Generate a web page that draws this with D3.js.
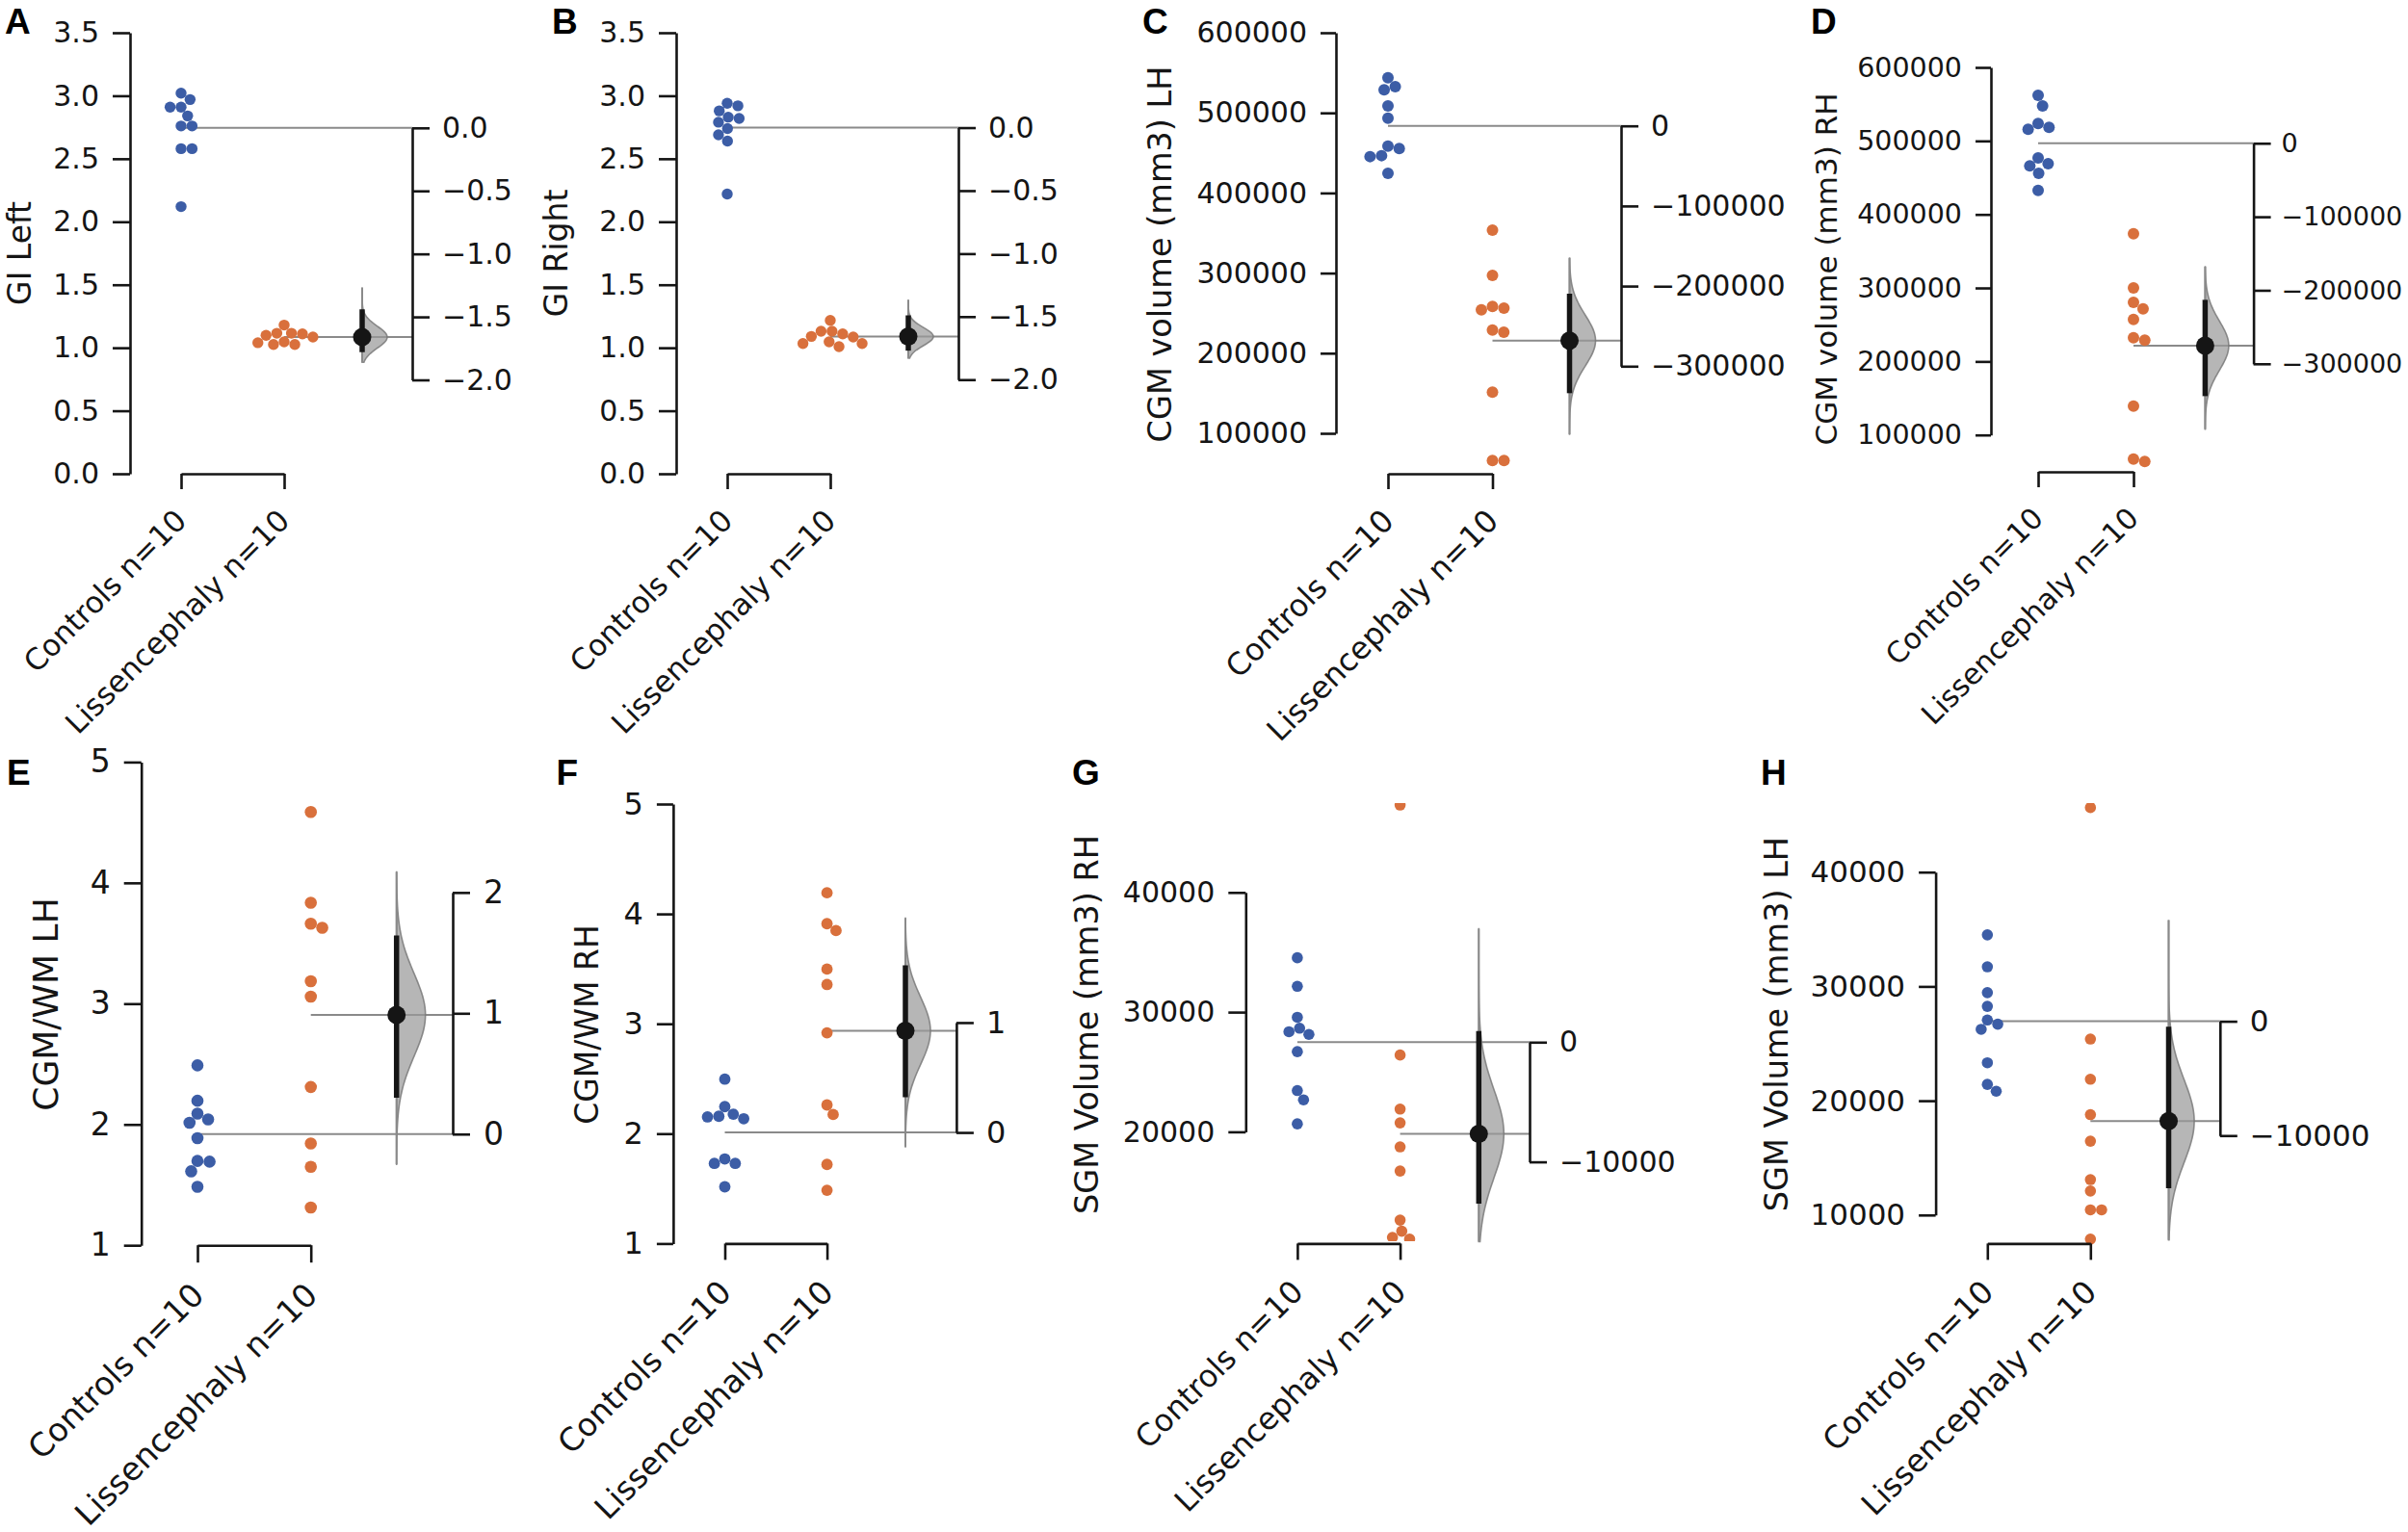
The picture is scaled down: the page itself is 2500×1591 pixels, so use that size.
<!DOCTYPE html>
<html><head><meta charset="utf-8">
<script src="https://cdn.jsdelivr.net/npm/d3@7"></script>
<style>body{margin:0;background:#fff}svg{display:block}</style>
</head><body>
<script>
// ---------------- DATA ----------------
const groups = ["Controls n=10", "Lissencephaly n=10"];
const panelIds = ["A","B","C","D","E","F","G","H"];
const yTitles = ["GI Left","GI Right","CGM volume (mm3) LH","CGM volume (mm3) RH",
                 "CGM/WM LH","CGM/WM RH","SGM Volume (mm3) RH","SGM Volume (mm3) LH"];

const controlsGILeft  = [3.02, 2.97, 2.91, 2.91, 2.84, 2.76, 2.76, 2.58, 2.58, 2.12];
const lissGILeft      = [1.18, 1.115, 1.115, 1.11, 1.098, 1.085, 1.047, 1.04, 1.026, 1.026];
const controlsGIRight = [2.94, 2.92, 2.88, 2.83, 2.82, 2.79, 2.74, 2.69, 2.64, 2.22];
const lissGIRight     = [1.217, 1.131, 1.131, 1.11, 1.09, 1.085, 1.047, 1.034, 1.034, 1.009];
const controlsCGMVolLH = [543900, 532700, 528700, 508650, 493400, 458600, 455400, 446600, 445400, 424500];
const lissCGMVolLH     = [353600, 297100, 258300, 256250, 254200, 229000, 226200, 151300, 66000, 66000];
const controlsCGMVolRH = [562100, 547600, 523700, 518400, 515800, 476900, 469000, 466000, 455900, 432800];
const lissCGMVolRH     = [373800, 300000, 280400, 271600, 257200, 232300, 228900, 139300, 67200, 63800];
const controlsCGMWMLH = [2.489, 2.196, 2.09, 2.042, 2.014, 1.886, 1.698, 1.692, 1.612, 1.484];
const lissCGMWMLH     = [4.587, 3.835, 3.662, 3.628, 3.186, 3.058, 2.31, 1.843, 1.649, 1.313];
const controlsCGMWMRH = [2.496, 2.246, 2.177, 2.158, 2.152, 2.136, 1.77, 1.729, 1.729, 1.516];
const lissCGMWMRH     = [4.192, 3.911, 3.848, 3.498, 3.357, 2.918, 2.261, 2.174, 1.72, 1.485];
const controlsSGMVolRH = [34543, 32155, 29569, 28655, 28362, 28138, 26698, 23448, 22672, 20664];
const lissSGMVolRH     = [47300, 26414, 21897, 20750, 18741, 16724, 12621, 11698, 11181, 11034];
const controlsSGMVolLH = [34513, 31715, 29458, 28258, 27058, 26697, 26245, 23321, 21426, 20830];
const lissSGMVolLH     = [45650, 25397, 21877, 18782, 16462, 13096, 12103, 10451, 10451, 7888];

// tick values
const leftTicksGI = [0, 0.5, 1, 1.5, 2, 2.5, 3, 3.5];
const rightTicksGI = [0, -0.5, -1, -1.5, -2];
const leftTicksCGMVol = [100000, 200000, 300000, 400000, 500000, 600000];
const rightTicksCGMVol = [0, -100000, -200000, -300000];
const leftTicksRatio = [1, 2, 3, 4, 5];
const rightTicksRatioLH = [0, 1, 2];
const rightTicksRatioRH = [0, 1];
const leftTicksSGMRH = [20000, 30000, 40000];
const leftTicksSGMLH = [10000, 20000, 30000, 40000];
const rightTicksSGM = [0, -10000];

// bootstrap 95% CI of mean difference and extent of bootstrap distribution
const ciGILeft = [-1.78, -1.44],  bootGILeft = [-1.86, -1.27];
const ciGIRight = [-1.77, -1.49], bootGIRight = [-1.83, -1.37];
const ciCGMVolLH = [-333700, -209500], bootCGMVolLH = [-385000, -165000];
const ciCGMVolRH = [-344000, -213000], bootCGMVolRH = [-389000, -168000];
const ciCGMWMLH = [0.30, 1.645], bootCGMWMLH = [-0.25, 2.17];
const ciCGMWMRH = [0.32, 1.52],  bootCGMWMRH = [-0.13, 1.95];
const ciSGMVolRH = [-13500, 920],  bootSGMVolRH = [-16660, 9480];
const ciSGMVolLH = [-14620, -480], bootSGMVolLH = [-19130, 8850];

const panels = [
  {ctrl: controlsGILeft, liss: lissGILeft, lt: leftTicksGI, rt: rightTicksGI, ci: ciGILeft, boot: bootGILeft, fmt: ".1f"},
  {ctrl: controlsGIRight, liss: lissGIRight, lt: leftTicksGI, rt: rightTicksGI, ci: ciGIRight, boot: bootGIRight, fmt: ".1f"},
  {ctrl: controlsCGMVolLH, liss: lissCGMVolLH, lt: leftTicksCGMVol, rt: rightTicksCGMVol, ci: ciCGMVolLH, boot: bootCGMVolLH, fmt: "d"},
  {ctrl: controlsCGMVolRH, liss: lissCGMVolRH, lt: leftTicksCGMVol, rt: rightTicksCGMVol, ci: ciCGMVolRH, boot: bootCGMVolRH, fmt: "d"},
  {ctrl: controlsCGMWMLH, liss: lissCGMWMLH, lt: leftTicksRatio, rt: rightTicksRatioLH, ci: ciCGMWMLH, boot: bootCGMWMLH, fmt: "d"},
  {ctrl: controlsCGMWMRH, liss: lissCGMWMRH, lt: leftTicksRatio, rt: rightTicksRatioRH, ci: ciCGMWMRH, boot: bootCGMWMRH, fmt: "d"},
  {ctrl: controlsSGMVolRH, liss: lissSGMVolRH, lt: leftTicksSGMRH, rt: rightTicksSGM, ci: ciSGMVolRH, boot: bootSGMVolRH, fmt: "d"},
  {ctrl: controlsSGMVolLH, liss: lissSGMVolLH, lt: leftTicksSGMLH, rt: rightTicksSGM, ci: ciSGMVolLH, boot: bootSGMVolLH, fmt: "d"}
];

// ---------------- LAYOUT ----------------
const layout = {
  A:{yp:[492,34], axisX:135, tick:18, catX:[188,295], brY:492, brLen:16, rightX:428, effX:376, violW:26, titleX:32, titleY:263, letter:[5,35], fsTick:30, fsRight:30, rPad:13, fsTitle:33, fsCat:31, r:5.7, clip:null},
  B:{yp:[492,34], axisX:702, tick:18, catX:[755,862], brY:492, brLen:16, rightX:995, effX:943, violW:26, titleX:589, titleY:263, letter:[573,35], fsTick:30, fsRight:30, rPad:13, fsTitle:33, fsCat:31, r:5.7, clip:null},
  C:{yp:[450,34], axisX:1387, tick:16, catX:[1441,1549.5], brY:492, brLen:16, rightX:1683, effX:1629.5, violW:27, titleX:1215.7, titleY:264, letter:[1186,35], fsTick:30, fsRight:30, rPad:13, fsTitle:33.5, fsCat:32, r:6, clip:null},
  D:{yp:[451.7,70], axisX:2067, tick:16, catX:[2116,2215], brY:490, brLen:16, rightX:2339.6, effX:2289.4, violW:24.5, titleX:1907, titleY:279.5, letter:[1880,35], fsTick:28.5, fsRight:27, rPad:11, fsTitle:31, fsCat:30, r:6, clip:null},
  E:{yp:[1293.2,791.4], axisX:146.7, tick:18, catX:[205,322.7], brY:1293.2, brLen:18, rightX:470, effX:411.7, violW:30, titleX:60, titleY:1043, letter:[7,815], fsTick:33, fsRight:33, rPad:14, fsTitle:36, fsCat:33.5, r:6.3, clip:null},
  F:{yp:[1291.4,835], axisX:698.9, tick:17, catX:[752.5,858.6], brY:1291.4, brLen:17, rightX:992.9, effX:940, violW:26, titleX:621, titleY:1064, letter:[577.5,815], fsTick:32, fsRight:32, rPad:13, fsTitle:33, fsCat:33, r:5.9, clip:null},
  G:{yp:[1175.4,926.8], axisX:1293.3, tick:18, catX:[1346.9,1453.6], brY:1291.4, brLen:17, rightX:1588, effX:1535.3, violW:26, titleX:1140, titleY:1064, letter:[1113,815], fsTick:30, fsRight:30, rPad:13, fsTitle:33.5, fsCat:32, r:5.8, clip:[834,1289]},
  H:{yp:[1261.8,905.7], axisX:2009.6, tick:17.5, catX:[2063.3,2170.3], brY:1291.4, brLen:17, rightX:2304.8, effX:2251.5, violW:26.6, titleX:1856, titleY:1063.6, letter:[1828,815], fsTick:31, fsRight:31, rPad:13, fsTitle:33.5, fsCat:32.5, r:5.8, clip:[834,1295]}
};

const BLUE = "#3c5da6", ORANGE = "#d9703c", INK = "#151515", FONT = "DejaVu Sans";

const svg = d3.select("body").append("svg").attr("width", 2500).attr("height", 1591)
  .attr("font-family", FONT);
const defs = svg.append("defs");

function swarm(vals, y, cx, r) {
  const pts = vals.map(v => ({v, y: y(v)})).sort((a, b) => a.y - b.y);
  const placed = [], d = 2 * r;
  pts.forEach(p => {
    const cands = [0];
    placed.forEach(q => {
      const dy = p.y - q.y;
      if (Math.abs(dy) < d) {
        const dx = Math.sqrt(d * d - dy * dy);
        cands.push(q.dx + dx, q.dx - dx);
      }
    });
    cands.sort((a, b) => Math.abs(a) - Math.abs(b));
    for (const c of cands) {
      if (placed.every(q => Math.hypot(c - q.dx, p.y - q.y) >= d - 1e-6)) { p.dx = c; break; }
    }
    placed.push(p);
  });
  return placed.map(p => ({v: p.v, y: p.y, x: cx + p.dx}));
}

function styleAxis(sel, fs) {
  sel.attr("font-family", FONT).attr("font-size", fs);
  sel.selectAll("path, line").attr("stroke", INK).attr("stroke-width", 2.6);
  sel.selectAll("text").attr("fill", INK);
}

panels.forEach((p, i) => {
  const id = panelIds[i], L = layout[id];
  const g = svg.append("g");
  const fmt = d3.format(p.fmt);

  const y = d3.scaleLinear().domain([p.lt[0], p.lt[p.lt.length - 1]]).range(L.yp);
  const cm = d3.mean(p.ctrl), lm = d3.mean(p.liss), eff = lm - cm;
  const r0 = p.rt[0], r1 = p.rt[p.rt.length - 1];
  const yR = d3.scaleLinear().domain([r0, r1]).range([y(cm + r0), y(cm + r1)]);
  const x = d3.scalePoint().domain(groups).range(L.catX);

  // mean reference lines
  g.append("line").attr("x1", x(groups[0])).attr("x2", L.rightX)
    .attr("y1", y(cm)).attr("y2", y(cm)).attr("stroke", "#8a8a8a").attr("stroke-width", 2);
  g.append("line").attr("x1", x(groups[1])).attr("x2", L.rightX)
    .attr("y1", y(lm)).attr("y2", y(lm)).attr("stroke", "#8a8a8a").attr("stroke-width", 2);

  // half-violin of bootstrap distribution (normal approx from CI)
  const sd = (p.ci[1] - p.ci[0]) / 3.92;
  const n = 80;
  const vpts = d3.range(n + 1).map(k => {
    const v = p.boot[0] + (p.boot[1] - p.boot[0]) * k / n;
    return {v, d: Math.exp(-0.5 * ((v - eff) / sd) ** 2)};
  });
  const wx = d3.scaleLinear().domain([0, d3.max(vpts, d => d.d)]).range([0, L.violW]);
  g.append("path").datum(vpts)
    .attr("d", d3.area().y(d => yR(d.v)).x0(L.effX).x1(d => L.effX + wx(d.d)).curve(d3.curveBasis))
    .attr("fill", "#9a9a9a").attr("fill-opacity", 0.72)
    .attr("stroke", "#7a7a7a").attr("stroke-width", 1.6).attr("stroke-opacity", 0.85);
  g.append("line").attr("x1", L.effX).attr("x2", L.effX)
    .attr("y1", yR(p.boot[0])).attr("y2", yR(p.boot[1]))
    .attr("stroke", "#8a8a8a").attr("stroke-width", 2);

  // CI and effect size
  g.append("line").attr("x1", L.effX).attr("x2", L.effX)
    .attr("y1", yR(p.ci[0])).attr("y2", yR(p.ci[1]))
    .attr("stroke", INK).attr("stroke-width", 5.5);
  g.append("circle").attr("cx", L.effX).attr("cy", yR(eff)).attr("r", 9.5).attr("fill", INK);

  // swarm points
  let dotsG = g.append("g");
  if (L.clip) {
    const cid = "clip" + id;
    defs.append("clipPath").attr("id", cid).append("rect")
      .attr("x", 0).attr("y", L.clip[0]).attr("width", 2500).attr("height", L.clip[1] - L.clip[0]);
    dotsG.attr("clip-path", `url(#${cid})`);
  }
  [[p.ctrl, BLUE, groups[0]], [p.liss, ORANGE, groups[1]]].forEach(([vals, col, gname]) => {
    dotsG.selectAll(null).data(swarm(vals, y, x(gname), L.r)).join("circle")
      .attr("cx", d => d.x).attr("cy", d => d.y).attr("r", L.r).attr("fill", col);
  });

  // left axis
  const ax = g.append("g").attr("transform", `translate(${L.axisX},0)`)
    .call(d3.axisLeft(y).tickValues(p.lt).tickFormat(fmt).tickSize(L.tick).tickSizeOuter(0).tickPadding(14));
  styleAxis(ax, L.fsTick);

  // right (difference) axis
  const axR = g.append("g").attr("transform", `translate(${L.rightX},0)`)
    .call(d3.axisRight(yR).tickValues(p.rt).tickFormat(fmt).tickSize(18).tickSizeOuter(0).tickPadding(L.rPad));
  styleAxis(axR, L.fsRight);

  // x bracket axis
  const axX = g.append("g").attr("transform", `translate(0,${L.brY})`)
    .call(d3.axisBottom(x).tickSize(L.brLen).tickSizeOuter(0).tickFormat(""));
  styleAxis(axX, L.fsCat);

  // rotated group labels
  groups.forEach(gname => {
    g.append("text")
      .attr("transform", `translate(${x(gname) - 9},${L.brY + L.brLen + 18}) rotate(-45)`)
      .attr("text-anchor", "end").attr("dy", "0.75em")
      .attr("font-size", L.fsCat).attr("fill", INK).text(gname);
  });

  // y title
  g.append("text")
    .attr("transform", `translate(${L.titleX},${L.titleY}) rotate(-90)`)
    .attr("text-anchor", "middle").attr("font-size", L.fsTitle).attr("fill", INK)
    .text(yTitles[i]);

  // panel letter
  g.append("text").attr("x", L.letter[0]).attr("y", L.letter[1])
    .attr("font-family", "Liberation Sans, Arial, sans-serif").attr("font-weight", "bold")
    .attr("font-size", 37).attr("fill", "#000").text(id);
});
</script>
</body></html>
